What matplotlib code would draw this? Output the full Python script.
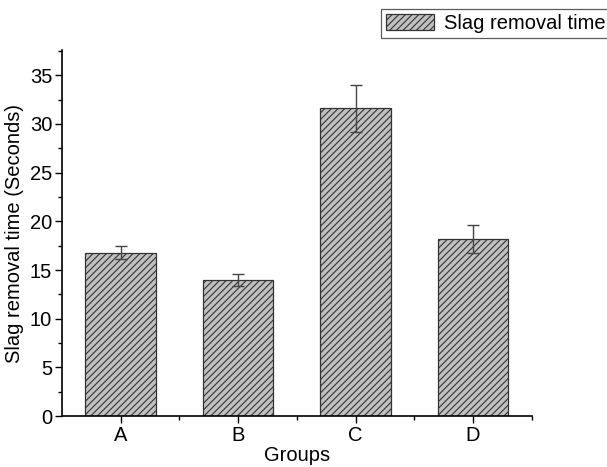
import matplotlib
matplotlib.use("Agg")
import matplotlib.pyplot as plt
from matplotlib.ticker import MultipleLocator

plt.rcParams['font.family'] = ['Liberation Sans', 'DejaVu Sans']
plt.rcParams['hatch.linewidth'] = 0.8
plt.rcParams['hatch.color'] = '#333333'

groups = ["A", "B", "C", "D"]
times = [16.8, 14.0, 31.6, 18.2]
errs = [0.7, 0.6, 2.4, 1.4]

fig = plt.figure(figsize=(6.07, 4.67), dpi=100)
ax = fig.add_axes([0.102, 0.109, 0.774, 0.784])

pos = [1, 2, 3, 4]
bars = ax.bar(pos, times, width=0.6, color='#c0c0c0', edgecolor='#333333',
              linewidth=0.9, hatch='/////', label='Slag removal time')
ax.errorbar(pos, times, yerr=errs, fmt='none', ecolor='#444444',
            elinewidth=1.0, capsize=4, capthick=1.0)

ax.set_xlim(0.5, 4.5)
ax.set_ylim(0, 37.6)
ax.set_xticks(pos)
ax.set_xticklabels(groups)
ax.xaxis.set_minor_locator(plt.FixedLocator([1.5, 2.5, 3.5, 4.5]))
ax.yaxis.set_major_locator(MultipleLocator(5))
ax.yaxis.set_minor_locator(MultipleLocator(2.5))
ax.tick_params(which='major', direction='out', length=5, width=1, labelsize=14.5, pad=2)
ax.tick_params(which='minor', direction='out', length=3, width=1)

ax.spines['top'].set_visible(False)
ax.spines['right'].set_visible(False)
ax.spines['left'].set_linewidth(1.2)
ax.spines['bottom'].set_linewidth(1.2)

ax.set_xlabel('Groups', fontsize=14.5, labelpad=1)
ax.set_ylabel('Slag removal time (Seconds)', fontsize=14.5, labelpad=4)

leg = fig.legend(handles=[bars], labels=['Slag removal time'],
                 loc='upper right', bbox_to_anchor=(1.005, 0.98),
                 fontsize=14.5, frameon=True, fancybox=False,
                 edgecolor='#333333', handlelength=2.4, handleheight=0.9,
                 borderpad=0.22, handletextpad=0.5, borderaxespad=0.0)
leg.get_frame().set_linewidth(0.9)

fig.savefig('out.png', dpi=100)
